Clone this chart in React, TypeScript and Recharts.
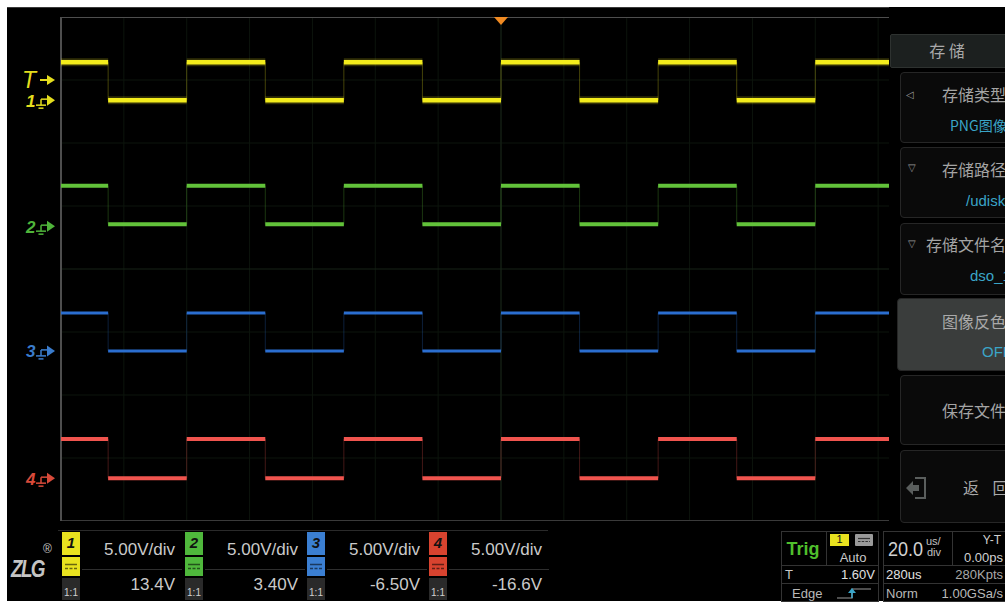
import React from 'react';
import { LineChart, Line, XAxis, YAxis, CartesianGrid, ReferenceDot, ReferenceLine } from 'recharts';

// ---------- data ----------
const TIME_RANGE_US = [-140, 140];
const TIME_TICKS_US = [-140, -120, -100, -80, -60, -40, -20, 0, 20, 40, 60, 80, 100, 120, 140];
const DIV_TICKS = [-3, -2, -1, 0, 1, 2, 3];
const EDGE_TIMES_US = [-125, -100, -75, -50, -25, 0, 25, 50, 75, 100, 125];
const SEGMENT_STATES = [1, 0, 1, 0, 1, 0, 1, 0, 1, 0, 1, 0];
const CH_NAMES = ['1', '2', '3', '4'];
const CH_OFFSETS_V = [13.4, 3.4, -6.5, -16.6];
const CH_HIGH_V = [3.0, 3.2, 3.0, 3.1];
const CH_LOW_V = [0, 0.15, 0, 0];
const CH_SCALE_LABELS = ['5.00V/div', '5.00V/div', '5.00V/div', '5.00V/div'];
const CH_OFFSET_LABELS = ['13.4V', '3.40V', '-6.50V', '-16.6V'];
const VOLTS_PER_DIV = 5;
const SCREEN_DIVS = 8;
const TRIGGER_LEVEL_V = 1.6;

// ---------- styles ----------
const CH_TRACE = ['#f3ec1c', '#62c23a', '#2b6ed0', '#f0544e'];
const CH_WIDTH = [4.5, 4, 3, 4];
const CH_LABEL = ['#e4dd1e', '#4fb43a', '#3a7ccd', '#d84a3a'];
const CH_BOX = ['#e9e21f', '#4fb83c', '#3b7fd2', '#d8432f'];
const CH_BOX_X = [62, 185, 307, 429];
const FONT = '"Liberation Sans", Arial, sans-serif';
const CJK = '"Noto Sans CJK SC", "Noto Sans", sans-serif';

const bounds = [TIME_RANGE_US[0], ...EDGE_TIMES_US, TIME_RANGE_US[1]];
// channel volts -> screen divisions (each channel has its own offset)
const toDiv = (i: number, v: number) => (v + CH_OFFSETS_V[i]) / VOLTS_PER_DIV;
const levelOf = (i: number, s: number) => toDiv(i, s ? CH_HIGH_V[i] : CH_LOW_V[i]);
const segmentData = (i: number) => {
  const rows: any[] = [];
  SEGMENT_STATES.forEach((s, k) => {
    const v = levelOf(i, s);
    rows.push({ t: bounds[k], v }, { t: bounds[k + 1], v }, { t: bounds[k + 1], v: null });
  });
  return rows;
};
const stepData = (i: number) =>
  bounds.map((t, k) => ({ t, v: levelOf(i, SEGMENT_STATES[Math.min(k, SEGMENT_STATES.length - 1)]) }));

const markerTicks = [...CH_OFFSETS_V.map((o) => o / VOLTS_PER_DIV), (CH_OFFSETS_V[0] + TRIGGER_LEVEL_V) / VOLTS_PER_DIV];

const MarkerTick = (props: any) => {
  const { y, payload } = props;
  const v = payload.value;
  const idx = CH_OFFSETS_V.findIndex((o) => Math.abs(o / VOLTS_PER_DIV - v) < 1e-6);
  if (idx < 0) {
    const c = CH_LABEL[0];
    return (
      <g transform={`translate(0, ${y})`}>
        <text x={15} y={0} dy="0.36em" fill={c} fontSize={23} fontStyle="italic" fontFamily={FONT}>T</text>
        <line x1={33} x2={41} y1={0} y2={0} stroke={c} strokeWidth={2} />
        <polygon points="40,-5 48,0 40,5" fill={c} />
      </g>
    );
  }
  const c = CH_LABEL[idx];
  return (
    <g transform={`translate(0, ${y})`}>
      <text x={19} y={0} dy="0.38em" fill={c} fontSize={17} fontWeight="bold" fontStyle="italic" fontFamily={FONT}>{CH_NAMES[idx]}</text>
      <line x1={34} x2={40} y1={-1} y2={-1} stroke={c} strokeWidth={1.5} />
      <line x1={34} x2={34} y1={-1} y2={5} stroke={c} strokeWidth={1.5} />
      <line x1={29} x2={39} y1={5} y2={5} stroke={c} strokeWidth={1.5} />
      <line x1={31.5} x2={36.5} y1={8} y2={8} stroke={c} strokeWidth={1.5} />
      <polygon points="40,-5.5 48,0 40,5.5" fill={c} />
    </g>
  );
};

const Txt = ({ x, y, text, size = 16, color = '#c9c9c9', align = 'left', font = FONT, weight = 'normal', italic = false, ls = 0, sx = 1 }: any) => {
  const st: any = {
    position: 'absolute',
    top: y - size * 0.62,
    height: size * 1.24,
    lineHeight: `${size * 1.24}px`,
    fontSize: size,
    color,
    fontFamily: font,
    fontWeight: weight,
    fontStyle: italic ? 'italic' : 'normal',
    whiteSpace: 'nowrap',
    letterSpacing: ls,
  };
  if (align === 'right') { st.right = 1005 - x; st.transformOrigin = 'right center'; }
  else if (align === 'center') { st.left = x - 100; st.width = 200; st.textAlign = 'center'; }
  else { st.left = x; st.transformOrigin = 'left center'; }
  if (sx !== 1) st.transform = `scaleX(${sx})`;
  return <div style={st}>{text}</div>;
};

const Box = ({ l, t, w, h, bg = 'transparent', border, radius = 0, extra = {} }: any) => (
  <div style={{ position: 'absolute', left: l, top: t, width: w, height: h, background: bg, border, borderRadius: radius, boxSizing: 'border-box', ...extra }} />
);

const DcIcon = ({ l, t, color }: any) => (
  <svg style={{ position: 'absolute', left: l, top: t }} width={18} height={19}>
    <line x1={3} x2={15} y1={7.5} y2={7.5} stroke={color} strokeWidth={1.5} />
    <line x1={3} x2={15} y1={11.5} y2={11.5} stroke={color} strokeWidth={1.5} strokeDasharray="3 1.5" />
  </svg>
);

const MenuItem = ({ top, h, bg = '#0a0a0a', left = 900 }: any) => (
  <Box l={left} t={top} w={120} h={h} bg={bg} border="1px solid #262626" radius={4} />
);

export default function App() {
  const half = SCREEN_DIVS / 2;
  return (
    <div style={{ position: 'absolute', left: 0, top: 0, width: 1005, height: 606, background: '#fff', overflow: 'hidden', fontFamily: FONT }}>
      <Box l={7} t={7} w={998} h={594} bg="#000" extra={{ borderTop: '1px solid #3a3a3a' }} />

      {/* scope screen */}
      <div style={{ position: 'absolute', left: 7, top: 17 }}>
        <LineChart width={934} height={504} margin={{ top: 0, right: 0, bottom: 0, left: 0 }}>
          <XAxis dataKey="t" type="number" domain={TIME_RANGE_US} ticks={TIME_TICKS_US} allowDataOverflow hide />
          <YAxis
            type="number"
            domain={[-half, half]}
            ticks={markerTicks}
            interval={0}
            width={54}
            allowDataOverflow
            axisLine={false}
            tickLine={false}
            tick={(p: any) => <MarkerTick {...p} />}
          />
          <CartesianGrid horizontal={false} stroke="#0c140c" strokeWidth={1} />
          {DIV_TICKS.map((d) => (
            <ReferenceLine key={`g${d}`} y={d} stroke={d === 0 ? '#172317' : '#0c140c'} strokeWidth={1} />
          ))}
          <ReferenceLine x={0} stroke="#172317" strokeWidth={1} />
          <ReferenceLine y={half} stroke="#4e4e4e" strokeWidth={2} />
          <ReferenceLine y={-half} stroke="#3a3a3a" strokeWidth={2} />
          <ReferenceLine x={TIME_RANGE_US[0]} stroke="#4e4e4e" strokeWidth={2} />

          {CH_NAMES.map((n, i) => (
            <Line
              key={`e${n}`}
              data={stepData(i)}
              dataKey="v"
              type="stepAfter"
              stroke={CH_TRACE[i]}
              strokeOpacity={0.28}
              strokeWidth={1}
              dot={false}
              activeDot={false}
              isAnimationActive={false}
            />
          ))}
          <Line
            data={segmentData(0)}
            dataKey="v"
            type="linear"
            stroke={CH_TRACE[0]}
            strokeOpacity={0.2}
            strokeWidth={8}
            dot={false}
            activeDot={false}
            connectNulls={false}
            isAnimationActive={false}
          />
          {CH_NAMES.map((n, i) => (
            <Line
              key={`s${n}`}
              data={segmentData(i)}
              dataKey="v"
              type="linear"
              stroke={CH_TRACE[i]}
              strokeWidth={CH_WIDTH[i]}
              dot={false}
              activeDot={false}
              connectNulls={false}
              isAnimationActive={false}
            />
          ))}
          <ReferenceDot
            x={0}
            y={half}
            r={6}
            ifOverflow="visible"
            shape={(p: any) => (
              <polygon points={`${p.cx - 7},${p.cy} ${p.cx + 7},${p.cy} ${p.cx},${p.cy + 8}`} fill="#f08a22" />
            )}
          />
        </LineChart>
      </div>

      {/* right menu */}
      <Box l={889} t={7} w={120} h={521} bg="#000" />
      <Box l={890} t={34} w={120} h={34} bg="#1c201f" border="1px solid #2e3230" radius={2} />
      <Txt x={947} y={51} text="存 储" size={16} color="#a9a9a9" font={CJK} align="center" />

      <MenuItem top={72} h={71} />
      <Txt x={906} y={95} text="◁" size={10} color="#9a9a9a" />
      <Txt x={942} y={95} text="存储类型" size={16} color="#a4a4a4" font={CJK} />
      <Txt x={950} y={126} text="PNG图像" size={14} color="#3aa5c8" font={CJK} />

      <MenuItem top={147} h={71} />
      <Txt x={908} y={168} text="▽" size={10} color="#9a9a9a" />
      <Txt x={942} y={170} text="存储路径" size={16} color="#a4a4a4" font={CJK} />
      <Txt x={966} y={201} text="/udisk" size={15} color="#3aa5c8" />

      <MenuItem top={223} h={72} />
      <Txt x={908} y={244} text="▽" size={10} color="#9a9a9a" />
      <Txt x={926} y={245} text="存储文件名" size={16} color="#a4a4a4" font={CJK} />
      <Txt x={970} y={276} text="dso_1" size={15} color="#3aa5c8" />

      <MenuItem top={298} h={73} bg="#3a3d3c" left={897} />
      <Txt x={942} y={322} text="图像反色" size={16} color="#a9a9a9" font={CJK} />
      <Txt x={982} y={352} text="OFF" size={15} color="#3aa5c8" />

      <MenuItem top={375} h={70} />
      <Txt x={942} y={411} text="保存文件" size={16} color="#a4a4a4" font={CJK} />

      <MenuItem top={450} h={73} />
      <svg style={{ position: 'absolute', left: 905, top: 476 }} width={24} height={24}>
        <polyline points="10,2 20,2 20,22 10,22" fill="none" stroke="#5a5e5d" strokeWidth={2} />
        <polygon points="1,12 8,5 8,9 14,9 14,15 8,15 8,19" fill="#5a5e5d" />
      </svg>
      <Txt x={963} y={488} text="返 回" size={16} color="#a9a9a9" font={CJK} ls={5} />

      {/* bottom channel bar */}
      <Box l={58} t={530} w={490} h={1} bg="#2a2a2a" />
      <Txt x={11} y={569} text="ZLG" size={23} color="#c4c4c4" weight="bold" italic ls={-2} sx={0.82} />
      <Txt x={43} y={549} text="®" size={12} color="#c4c4c4" />
      {CH_NAMES.map((n, i) => {
        const x0 = CH_BOX_X[i];
        return (
          <React.Fragment key={`cb${n}`}>
            <Box l={x0} t={532} w={18} h={23} bg={CH_BOX[i]} />
            <Txt x={x0 + 9} y={543} text={n} size={15} color="#111" weight="bold" italic align="center" />
            <Box l={x0} t={557} w={18} h={19} bg={CH_BOX[i]} />
            <DcIcon l={x0} t={557} color="rgba(0,0,0,0.55)" />
            <Box l={x0} t={578} w={18} h={22} bg="#2a2a2a" />
            <Txt x={x0 + 9} y={593} text="1:1" size={10} color="#cfcfcf" align="center" />
            <Box l={x0 + 20} t={569} w={100} h={1} bg="#2e2e2e" />
            <Txt x={x0 + 113} y={550} text={CH_SCALE_LABELS[i]} size={17} color="#cacaca" align="right" />
            <Txt x={x0 + 113} y={585} text={CH_OFFSET_LABELS[i]} size={17} color="#cacaca" align="right" />
          </React.Fragment>
        );
      })}

      {/* trigger panel */}
      <Box l={781} t={531} w={98} h={71} border="1px solid #333" />
      <Box l={826} t={531} w={1} h={34} bg="#333" />
      <Box l={781} t={565} w={98} h={1} bg="#333" />
      <Box l={781} t={583} w={98} h={1} bg="#333" />
      <Txt x={803} y={549} text="Trig" size={18} color="#4fbf2c" weight="bold" align="center" />
      <Box l={830} t={534} w={19} h={12} bg={CH_BOX[0]} />
      <Txt x={839.5} y={540} text="1" size={11} color="#111" align="center" />
      <Box l={855} t={534} w={18} h={12} bg="#9a9a9a" radius={1} />
      <svg style={{ position: 'absolute', left: 855, top: 534 }} width={18} height={12}>
        <line x1={3} x2={15} y1={4.5} y2={4.5} stroke="#333" strokeWidth={1.2} />
        <line x1={3} x2={15} y1={7.5} y2={7.5} stroke="#333" strokeWidth={1.2} strokeDasharray="2.5 1.2" />
      </svg>
      <Txt x={853} y={558} text="Auto" size={13} color="#c9c9c9" align="center" />
      <Txt x={785} y={575} text="T" size={13} color="#c9c9c9" />
      <Txt x={875} y={575} text="1.60V" size={13} color="#e0e0e0" align="right" />
      <Txt x={792} y={594} text="Edge" size={13} color="#b9b9b9" />
      <svg style={{ position: 'absolute', left: 836, top: 586 }} width={36} height={14}>
        <polyline points="1,12 16,12 16,3 35,3" fill="none" stroke="#9a9a9a" strokeWidth={1.2} />
        <line x1={16} x2={16} y1={12} y2={5} stroke="#3aa5c8" strokeWidth={1.5} />
        <polygon points="12,7 16,2 20,7" fill="#3aa5c8" />
      </svg>

      {/* timebase panel */}
      <Box l={883} t={531} w={130} h={71} border="1px solid #333" />
      <Box l={952} t={531} w={1} h={34} bg="#333" />
      <Box l={883} t={565} w={130} h={1} bg="#333" />
      <Box l={883} t={583} w={130} h={1} bg="#333" />
      <Txt x={888} y={549} text="20.0" size={21} color="#d0d0d0" sx={0.86} />
      <Txt x={926} y={542} text="us/" size={11} color="#c0c0c0" />
      <Txt x={927} y={553} text="div" size={11} color="#c0c0c0" />
      <Txt x={1001} y={540} text="Y-T" size={12} color="#d0d0d0" align="right" />
      <Txt x={1003} y={558} text="0.00ps" size={13} color="#d0d0d0" align="right" />
      <Txt x={886} y={575} text="280us" size={13} color="#e0e0e0" />
      <Txt x={1003} y={575} text="280Kpts" size={13} color="#a9a9a9" align="right" />
      <Txt x={886} y={594} text="Norm" size={13} color="#b9b9b9" />
      <Txt x={1003} y={594} text="1.00GSa/s" size={13} color="#b9b9b9" align="right" />
    </div>
  );
}
